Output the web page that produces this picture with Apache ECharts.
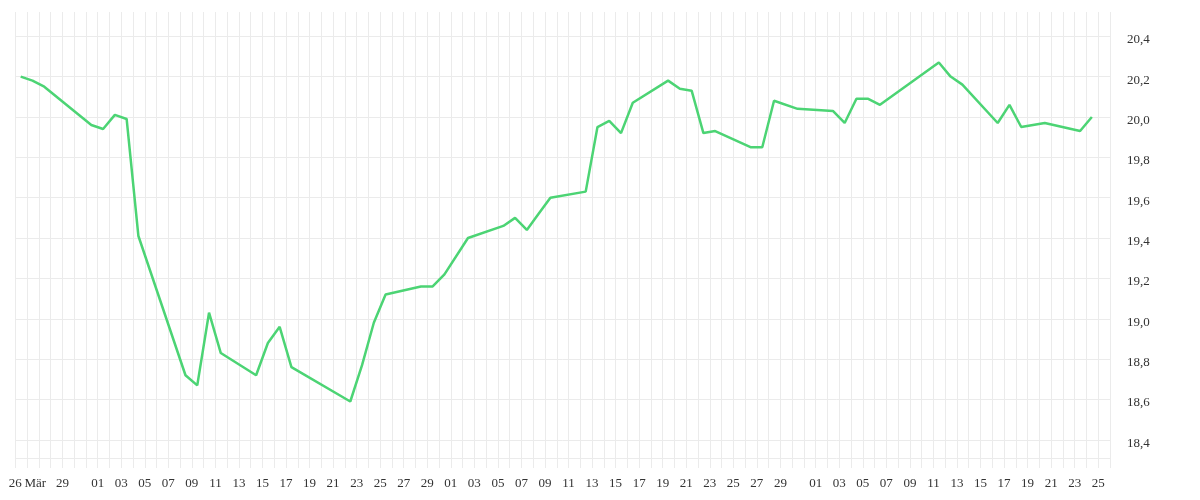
<!DOCTYPE html>
<html>
<head>
<meta charset="utf-8">
<script src="https://cdn.jsdelivr.net/npm/echarts@6/dist/echarts.min.js"></script>
<style>
html,body{margin:0;padding:0;background:#fff;}
#chart{width:1200px;height:500px;}
</style>
</head>
<body>
<div id="chart"></div>
<script>
// ---- data ----
const dates = [
  '2025-03-25','2025-03-26','2025-03-27','2025-03-31','2025-04-01','2025-04-02','2025-04-03','2025-04-04',
  '2025-04-08','2025-04-09','2025-04-10','2025-04-11','2025-04-14','2025-04-15','2025-04-16','2025-04-17',
  '2025-04-22','2025-04-23','2025-04-24','2025-04-25','2025-04-28','2025-04-29','2025-04-30','2025-05-02',
  '2025-05-05','2025-05-06','2025-05-07','2025-05-08','2025-05-09','2025-05-12','2025-05-13','2025-05-14',
  '2025-05-15','2025-05-16','2025-05-19','2025-05-20','2025-05-21','2025-05-22','2025-05-23','2025-05-26',
  '2025-05-27','2025-05-28','2025-05-30','2025-06-02','2025-06-03','2025-06-04','2025-06-05','2025-06-06',
  '2025-06-11','2025-06-12','2025-06-13','2025-06-16','2025-06-17','2025-06-18','2025-06-20','2025-06-23',
  '2025-06-24'
];
const values = [
  20.20, 20.18, 20.15, 19.96, 19.94, 20.01, 19.99, 19.41,
  18.72, 18.67, 19.03, 18.83, 18.72, 18.88, 18.96, 18.76,
  18.59, 18.77, 18.98, 19.12, 19.16, 19.16, 19.22, 19.40,
  19.46, 19.50, 19.44, 19.52, 19.60, 19.63, 19.95, 19.98,
  19.92, 20.07, 20.18, 20.14, 20.13, 19.92, 19.93, 19.85,
  19.85, 20.08, 20.04, 20.03, 19.97, 20.09, 20.09, 20.06,
  20.27, 20.20, 20.16, 19.97, 20.06, 19.95, 19.97, 19.93,
  20.00
];
const pointTime = 'T11:00:00Z';
const xStart = '2025-03-25';
const xEnd = '2025-06-26';
const xLabelOverrides = { '2025-03-25': '26', '2025-03-27': '{m|Mär}' };
const yMin = 18.31, yMax = 20.52;
const yTickLabels = [18.4, 18.6, 18.8, 19.0, 19.2, 19.4, 19.6, 19.8, 20.0, 20.2, 20.4];

// ---- chart ----
const DAY = 86400000;
const seriesData = dates.map((d, i) => [Date.parse(d + pointTime), values[i]]);
const pad2 = n => (n < 10 ? '0' : '') + n;
const isoDay = v => { const d = new Date(v); return d.getUTCFullYear() + '-' + pad2(d.getUTCMonth() + 1) + '-' + pad2(d.getUTCDate()); };

const yStep = 0.01;
const gridColor = '#ebebeb';
const yColors = [];
for (let i = 0; i < 20; i++) yColors.push('rgba(0,0,0,0)');
yColors[Math.round((yTickLabels[0] - yMin) / yStep) % 20] = gridColor;

const font = '"Liberation Serif", "DejaVu Serif", serif';
const chart = echarts.init(document.getElementById('chart'), null, { renderer: 'canvas' });
chart.setOption({
  animation: false,
  backgroundColor: '#ffffff',
  grid: { left: 15.3, right: 90, top: 12, bottom: 42, containLabel: false },
  xAxis: {
    type: 'value',
    min: Date.parse(xStart + 'T00:00:00Z'),
    max: Date.parse(xEnd + 'T00:00:00Z'),
    interval: DAY,
    axisLine: { show: true, lineStyle: { color: gridColor, width: 1 } },
    axisTick: { show: true, length: 10, lineStyle: { color: gridColor } },
    splitLine: { show: true, lineStyle: { color: gridColor, width: 1 } },
    axisLabel: {
      showMinLabel: true, showMaxLabel: true,
      margin: 19,
      color: '#333',
      fontFamily: font,
      fontSize: 13,
      rich: { m: { fontFamily: font, fontSize: 13, color: '#333', padding: [0, 7, 0, 0] } },
      formatter: function (v) {
        const key = isoDay(v);
        if (xLabelOverrides[key] !== undefined) return xLabelOverrides[key];
        const day = new Date(v).getUTCDate();
        if (day % 2 === 1 && day !== 31) return pad2(day);
        return '';
      }
    }
  },
  yAxis: {
    type: 'value',
    position: 'right',
    min: yMin,
    max: yMax,
    interval: yStep,
    axisLine: { show: false },
    axisTick: { show: false },
    splitLine: { show: true, showMinLine: true, showMaxLine: true, lineStyle: { color: yColors, width: 1 } },
    axisLabel: {
      showMinLabel: true, showMaxLabel: true,
      margin: 17,
      color: '#333',
      fontFamily: font,
      fontSize: 13,
      formatter: function (v) {
        for (const t of yTickLabels) {
          if (Math.abs(v - t) < 1e-6) return '{d|' + t.toFixed(1).replace('.', ',') + '}';
        }
        return '';
      },
      rich: { d: { fontFamily: font, fontSize: 13, color: '#333', padding: [7, 0, 0, 0] } }
    }
  },
  series: [{
    type: 'line',
    data: seriesData,
    showSymbol: false,
    symbol: 'none',
    smooth: false,
    lineStyle: { color: '#4cd474', width: 2.5 },
    itemStyle: { color: '#4cd474' }
  }]
});
</script>
</body>
</html>
